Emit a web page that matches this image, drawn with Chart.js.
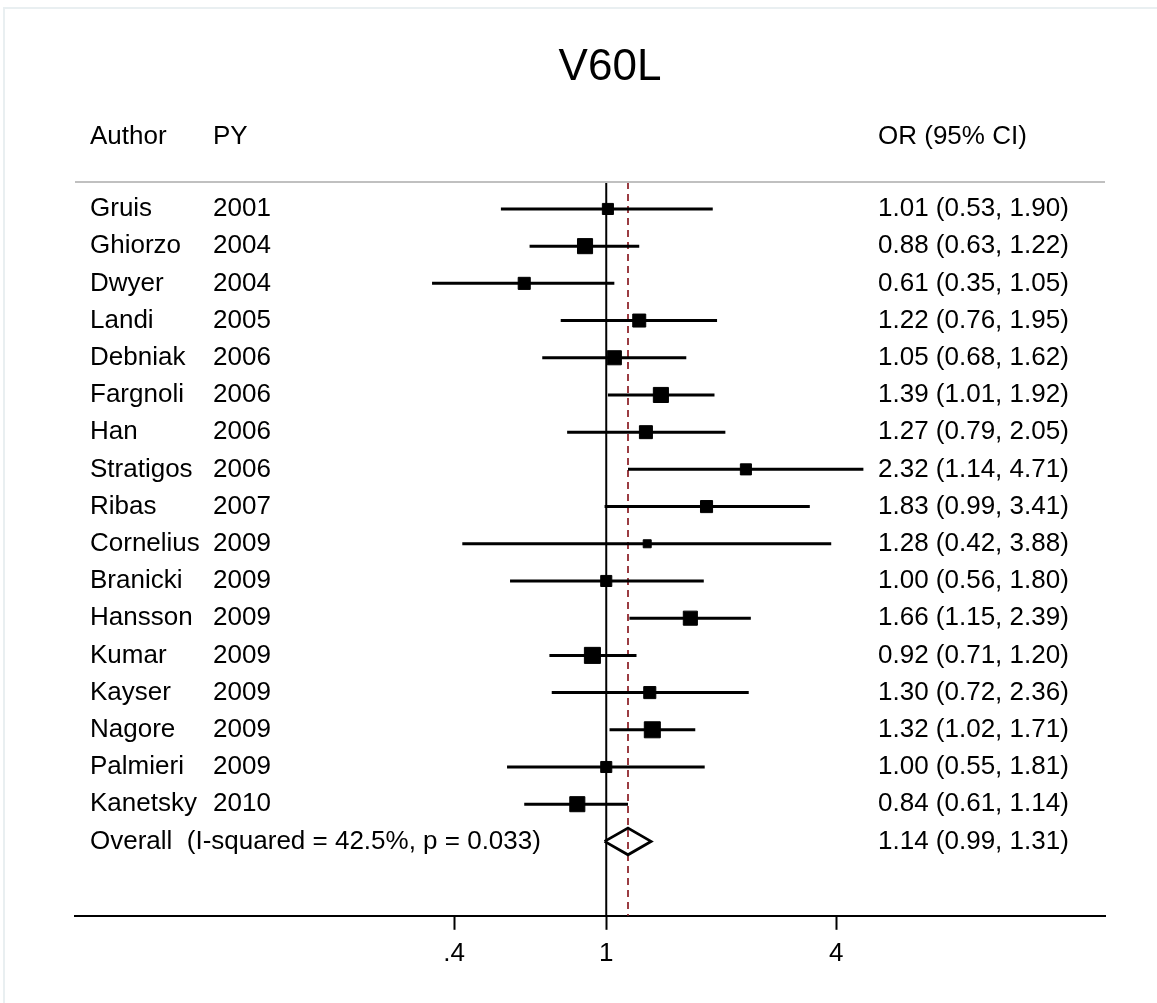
<!DOCTYPE html>
<html>
<head>
<meta charset="utf-8">
<title>V60L</title>
<script src="https://cdn.jsdelivr.net/npm/chart.js@4.4.1/dist/chart.umd.min.js"></script>
<style>
  html, body { margin: 0; padding: 0; background: #fff; }
  #frame {
    position: absolute; left: 3px; top: 7px; width: 1200px; height: 1100px;
    border-left: 2px solid #e9eff1; border-top: 2px solid #e9eff1;
  }
  #forest { position: absolute; left: 0; top: 0; }
</style>
</head>
<body>
<div id="frame"></div>
<canvas id="forest" width="1157" height="1003"></canvas>
<script>
// study rows, top to bottom
const authors = ['Gruis', 'Ghiorzo', 'Dwyer', 'Landi', 'Debniak', 'Fargnoli', 'Han', 'Stratigos', 'Ribas',
  'Cornelius', 'Branicki', 'Hansson', 'Kumar', 'Kayser', 'Nagore', 'Palmieri', 'Kanetsky'];
const years = ['2001', '2004', '2004', '2005', '2006', '2006', '2006', '2006', '2007',
  '2009', '2009', '2009', '2009', '2009', '2009', '2009', '2010'];
const oddsRatios = [1.01, 0.88, 0.61, 1.22, 1.05, 1.39, 1.27, 2.32, 1.83, 1.28, 1.00, 1.66, 0.92, 1.30, 1.32, 1.00, 0.84];
const ciLow = [0.53, 0.63, 0.35, 0.76, 0.68, 1.01, 0.79, 1.14, 0.99, 0.42, 0.56, 1.15, 0.71, 0.72, 1.02, 0.55, 0.61];
const ciHigh = [1.90, 1.22, 1.05, 1.95, 1.62, 1.92, 2.05, 4.71, 3.41, 3.88, 1.80, 2.39, 1.20, 2.36, 1.71, 1.81, 1.14];
// study weights (%), box area follows these
const weights = [4.2, 7.8, 5.0, 5.8, 6.8, 7.8, 5.8, 4.2, 5.0, 2.2, 4.2, 6.8, 8.8, 5.0, 8.8, 4.2, 7.8];

const overallLabel = 'Overall  (I-squared = 42.5%, p = 0.033)';
const overallOR = 1.14;
const overallLow = 0.99;
const overallHigh = 1.31;

const tickValues = [0.4, 1, 4];
const tickLabels = ['.4', '1', '4'];

const FONT = '"Liberation Sans", Arial, Helvetica, sans-serif';
const overallRow = authors.length + 1;
const headerRow = -0.93;
const ruleRow = 0.275;
const lastRow = overallRow + 2;

const fmt = (v) => v.toFixed(2);

// CI whiskers as one broken line
const ciPoints = [];
authors.forEach((a, i) => {
  ciPoints.push({x: ciLow[i], y: i + 1}, {x: ciHigh[i], y: i + 1}, {x: ciHigh[i], y: NaN});
});

const boxPoints = oddsRatios.map((v, i) => ({x: v, y: i + 1}));
const boxRadius = weights.map((w) => 5.4 * Math.sqrt(w) / Math.SQRT2);

const diamondHalf = 0.36;
const diamondPoints = [
  {x: overallLow, y: overallRow},
  {x: overallOR, y: overallRow - diamondHalf},
  {x: overallHigh, y: overallRow},
  {x: overallOR, y: overallRow + diamondHalf},
  {x: overallLow, y: overallRow}
];

const textColumns = {
  id: 'textColumns',
  afterDraw(chart) {
    const {ctx, chartArea, scales: {y}} = chart;
    ctx.save();
    ctx.fillStyle = '#000';
    ctx.textBaseline = 'middle';

    ctx.textAlign = 'center';
    ctx.font = `44px ${FONT}`;
    ctx.fillText('V60L', 610, 68);

    ctx.textAlign = 'left';
    ctx.font = `26px ${FONT}`;
    const yh = y.getPixelForValue(headerRow);
    ctx.fillText('Author', 90, yh);
    ctx.fillText('PY', 213, yh);
    ctx.fillText('OR (95% CI)', 878, yh);

    authors.forEach((a, i) => {
      const yy = y.getPixelForValue(i + 1);
      ctx.fillText(a, 90, yy);
      ctx.fillText(years[i], 213, yy);
      ctx.fillText(`${fmt(oddsRatios[i])} (${fmt(ciLow[i])}, ${fmt(ciHigh[i])})`, 878, yy);
    });
    const yo = y.getPixelForValue(overallRow);
    ctx.fillText(overallLabel, 90, yo);
    ctx.fillText(`${fmt(overallOR)} (${fmt(overallLow)}, ${fmt(overallHigh)})`, 878, yo);

    // header rule
    const yr = Math.round(y.getPixelForValue(ruleRow));
    ctx.strokeStyle = '#c0c0c0';
    ctx.lineWidth = 2;
    ctx.beginPath();
    ctx.moveTo(chartArea.left, yr);
    ctx.lineTo(chartArea.right, yr);
    ctx.stroke();
    ctx.restore();
  }
};

new Chart(document.getElementById('forest'), {
  type: 'scatter',
  data: {
    datasets: [
      {
        data: boxPoints,
        pointStyle: 'rect',
        pointRadius: boxRadius,
        backgroundColor: '#000',
        borderColor: '#000',
        borderWidth: 1,
        order: 0
      },
      {
        data: ciPoints,
        showLine: true,
        spanGaps: false,
        borderColor: '#000',
        borderWidth: 3,
        pointRadius: 0,
        order: 1
      },
      {
        data: diamondPoints,
        showLine: true,
        borderColor: '#000',
        borderWidth: 2.8,
        pointRadius: 0,
        order: 2
      },
      {
        data: [{x: overallOR, y: ruleRow}, {x: overallOR, y: lastRow}],
        showLine: true,
        borderColor: '#9b3c42',
        borderWidth: 2,
        borderDash: [7, 5],
        pointRadius: 0,
        order: 3
      },
      {
        data: [{x: 1, y: ruleRow}, {x: 1, y: lastRow}],
        showLine: true,
        borderColor: '#000',
        borderWidth: 2,
        pointRadius: 0,
        order: 4
      }
    ]
  },
  options: {
    responsive: false,
    animation: false,
    layout: {padding: {left: 75, right: 52, top: 171.75, bottom: 26}},
    plugins: {
      legend: {display: false},
      tooltip: {enabled: false},
      title: {display: false}
    },
    scales: {
      x: {
        type: 'logarithmic',
        min: 0.0407,
        max: 20.2,
        afterBuildTicks: (scale) => {
          scale.ticks = tickValues.map((v) => ({value: v}));
        },
        ticks: {
          callback: (v) => tickLabels[tickValues.indexOf(v)],
          color: '#000',
          font: {family: FONT, size: 26},
          padding: 8,
          maxRotation: 0,
          autoSkip: false
        },
        grid: {
          drawOnChartArea: false,
          drawTicks: true,
          tickLength: 14,
          tickColor: '#000',
          tickWidth: 2
        },
        border: {display: true, color: '#000', width: 2}
      },
      y: {
        type: 'linear',
        reverse: true,
        min: 0,
        max: lastRow,
        display: false
      }
    }
  },
  plugins: [textColumns]
});
</script>
</body>
</html>
